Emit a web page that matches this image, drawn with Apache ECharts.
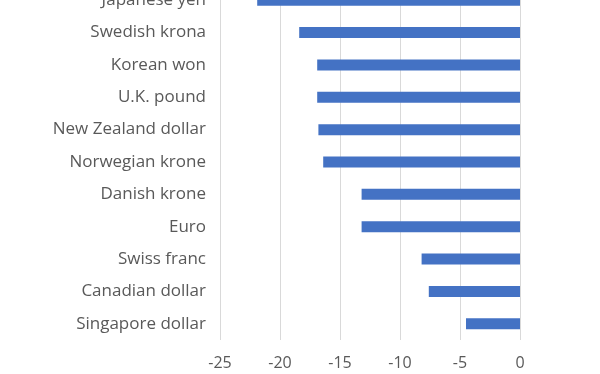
<!DOCTYPE html>
<html><head><meta charset="utf-8">
<script src="https://cdn.jsdelivr.net/npm/echarts@6/dist/echarts.min.js"></script>
<style>html,body{margin:0;padding:0;background:#fff}#c{width:600px;height:374px}</style>
</head><body><div id="c"></div>
<script>
const categories = ["Singapore dollar","Canadian dollar","Swiss franc","Euro","Danish krone","Norwegian krone","New Zealand dollar","U.K. pound","Korean won","Swedish krona","Japanese yen"];
const values = [-4.5, -7.6, -8.2, -13.2, -13.2, -16.4, -16.8, -16.9, -16.9, -18.4, -21.9];
const xTicks = {min: -25, max: 0, interval: 5};

const chart = echarts.init(document.getElementById('c'));
chart.setOption({
  animation: false,
  grid: {left: 220, width: 300, top: -16, height: 356, containLabel: false, outerBoundsMode: 'none'},
  xAxis: {
    type: 'value', min: xTicks.min, max: xTicks.max, interval: xTicks.interval,
    axisLine: {show: false}, axisTick: {show: false},
    splitLine: {show: true, lineStyle: {color: '#d9d9d9', width: 1}},
    axisLabel: {color: '#595959', fontSize: 16, fontFamily: 'Open Sans', margin: 15}
  },
  yAxis: {
    type: 'category', data: categories,
    axisLine: {show: false}, axisTick: {show: false},
    axisLabel: {color: '#595959', fontSize: 17, fontFamily: 'Open Sans', margin: 14}
  },
  series: [{
    type: 'bar', data: values, barWidth: 11,
    itemStyle: {color: '#4472c4'}
  }]
});
</script></body></html>
